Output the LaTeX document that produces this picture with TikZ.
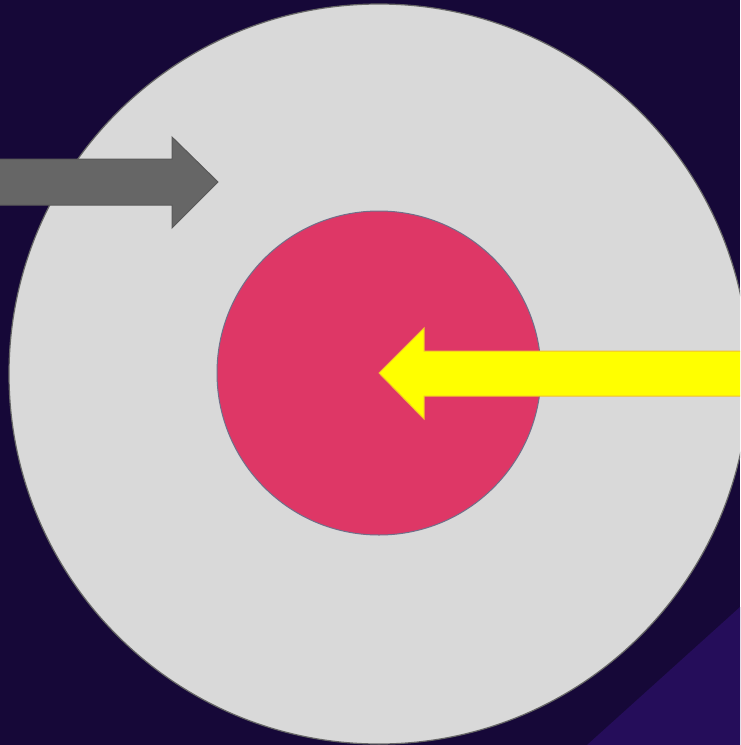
\documentclass[tikz,border=0pt]{standalone}
\definecolor{bgdark}{HTML}{160838}
\definecolor{bgpurple}{HTML}{250D5A}
\definecolor{disk}{HTML}{D9D9D9}
\definecolor{diskline}{HTML}{666666}
\definecolor{core}{HTML}{DE3766}
\definecolor{coreline}{HTML}{70708A}
\definecolor{grayarrow}{HTML}{666666}
\definecolor{grayarrowline}{HTML}{595959}
\definecolor{yel}{HTML}{FFFF00}
\definecolor{yelline}{HTML}{F2C12E}
\tikzset{
  bigdisk/.style={fill=disk,draw=diskline,line width=1.2pt},
  coredisk/.style={fill=core,draw=coreline,line width=1pt},
  grayarr/.style={fill=grayarrow,draw=grayarrowline,line width=1pt,line join=miter},
  yelarr/.style={fill=yel,draw=yelline,line width=1pt,line join=miter}
}
\begin{document}
\begin{tikzpicture}[x=1pt,y=-1pt]
\useasboundingbox (0,0) rectangle (740,745);
\clip (0,0) rectangle (740,745);
\fill[bgdark] (0,0) rectangle (740,745);
\fill[bgpurple] (740,607) -- (740,745) -- (587,745) -- cycle;
\draw[bigdisk] (379,374) circle[radius=370];
\draw[coredisk] (379,373) circle[radius=162];
\draw[grayarr] (-5,159) -- (172,159) -- (172,137) -- (218,182) -- (172,228) -- (172,205) -- (-5,205) -- cycle;
\draw[yelarr] (745,351) -- (424,351) -- (424,328) -- (379,373) -- (424,419) -- (424,396) -- (745,396) -- cycle;
\end{tikzpicture}
\end{document}
